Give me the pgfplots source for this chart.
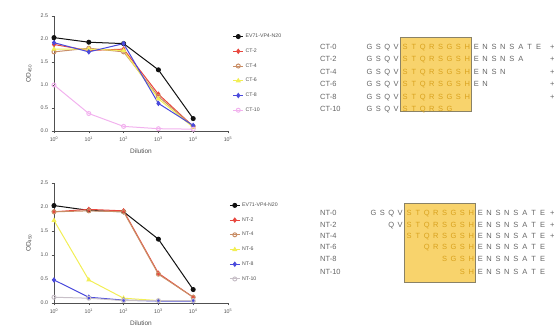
\documentclass[border=0pt]{standalone}
\usepackage{pgfplots}
\pgfplotsset{compat=1.18}
\usepackage{fontspec}
\setmainfont{Liberation Sans}
\definecolor{cblack}{HTML}{111111}
\definecolor{cred}{HTML}{E8473E}
\definecolor{ctan}{HTML}{C98E66}
\definecolor{cyel}{HTML}{F2EE55}
\definecolor{cblue}{HTML}{4A4ADC}
\definecolor{cpink}{HTML}{F2B2EE}
\definecolor{cgrey}{HTML}{C8C0C8}
\definecolor{axgray}{HTML}{505050}
\definecolor{seqout}{HTML}{666666}
\definecolor{seqin}{HTML}{D9A21E}
\definecolor{boxfill}{HTML}{F8D36C}
\definecolor{boxdraw}{HTML}{8A8266}
\newcommand{\seqrow}[4]{%
  \foreach \c [count=\i from #3] in {#4} {%
    \pgfmathtruncatemacro\inb{and(\i>4,\i<13)}%
    \ifnum\inb=1 \def\cc{seqin}\else\def\cc{seqout}\fi
    \node[font=\fontsize{7.5}{8}\selectfont, text=\cc, inner sep=0pt, anchor=base] at ({#1+(\i-0.5)*8.9}, #2-2.7) {\c};
  }}
\pgfplotsset{gp/.style={
  scale only axis, width=174pt,
  xmin=0, xmax=5, ymin=0, ymax=2.5,
  axis x line*=bottom, axis y line*=left,
  axis line style={axgray, line width=0.9pt, -},
  tick style={axgray, line width=0.6pt}, tick align=outside, major tick length=2.5pt,
  xtick={0,1,2,3,4,5},
  xticklabels={10\textsuperscript{0},10\textsuperscript{1},10\textsuperscript{2},10\textsuperscript{3},10\textsuperscript{4},10\textsuperscript{5}},
  ytick={0,0.5,1,1.5,2,2.5},
  /pgf/number format/assume math mode=true,
  yticklabel style={/pgf/number format/fixed, /pgf/number format/fixed zerofill, /pgf/number format/precision=1},
  ticklabel style={font=\fontsize{5.3}{6}\selectfont, text=axgray},
  xlabel={Dilution}, ylabel={OD\textsubscript{450}},
  label style={font=\fontsize{6.5}{7}\selectfont, text=axgray},
  ylabel style={yshift=2pt},
  every axis plot/.append style={line width=1pt, mark size=2pt},
  legend cell align=left,
  legend style={draw=none, fill=none, font=\fontsize{5.2}{6}\selectfont, text=axgray, row sep=5.6pt, anchor=north west},
  legend image code/.code={\draw[mark repeat=2,mark phase=2] plot coordinates {(0cm,0cm)(0.17cm,0cm)(0.34cm,0cm)};},
}}
\begin{document}
\begin{tikzpicture}[x=1pt,y=1pt]
\path (0,0) rectangle (557,329);
% ---------- top plot ----------
\begin{axis}[gp, height=115pt, at={(54pt,198pt)}, anchor=south west,
  legend style={at={(1.01,0.88)}}]
\addplot[cblack, mark=*, mark options={fill=cblack}] coordinates {(0,2.03)(1,1.93)(2,1.9)(3,1.33)(4,0.27)};
\addlegendentry{EV71-VP4-N20}
\addplot[cred, mark=diamond*, mark options={fill=cred}] coordinates {(0,1.88)(1,1.75)(2,1.78)(3,0.8)(4,0.1)};
\addlegendentry{CT-2}
\addplot[ctan, mark=o] coordinates {(0,1.72)(1,1.8)(2,1.72)(3,0.75)(4,0.1)};
\addlegendentry{CT-4}
\addplot[cyel, mark=triangle*, mark options={fill=cyel}] coordinates {(0,1.78)(1,1.78)(2,1.75)(3,0.7)(4,0.08)};
\addlegendentry{CT-6}
\addplot[cblue, mark=diamond*, mark options={fill=cblue}] coordinates {(0,1.92)(1,1.72)(2,1.9)(3,0.6)(4,0.12)};
\addlegendentry{CT-8}
\addplot[cpink, mark=o] coordinates {(0,1.0)(1,0.38)(2,0.1)(3,0.05)(4,0.04)};
\addlegendentry{CT-10}
\end{axis}
% ---------- bottom plot ----------
\begin{axis}[gp, height=120pt, at={(54pt,26pt)}, anchor=south west,
  legend style={at={(0.99,0.87)}}]
\addplot[cblack, mark=*, mark options={fill=cblack}] coordinates {(0,2.03)(1,1.93)(2,1.9)(3,1.33)(4,0.28)};
\addlegendentry{EV71-VP4-N20}
\addplot[cred, mark=diamond*, mark options={fill=cred}] coordinates {(0,1.9)(1,1.95)(2,1.92)(3,0.62)(4,0.12)};
\addlegendentry{NT-2}
\addplot[ctan, mark=o] coordinates {(0,1.9)(1,1.92)(2,1.9)(3,0.6)(4,0.12)};
\addlegendentry{NT-4}
\addplot[cyel, mark=triangle*, mark options={fill=cyel}] coordinates {(0,1.72)(1,0.48)(2,0.1)(3,0.05)(4,0.05)};
\addlegendentry{NT-6}
\addplot[cblue, mark=diamond*, mark options={fill=cblue}] coordinates {(0,0.48)(1,0.12)(2,0.06)(3,0.04)(4,0.04)};
\addlegendentry{NT-8}
\addplot[cgrey, mark=o] coordinates {(0,0.12)(1,0.1)(2,0.05)(3,0.05)(4,0.05)};
\addlegendentry{NT-10}
\end{axis}
% ---------- top sequences ----------
\fill[boxfill] (400.6,292) rectangle (471.8,218);
\draw[boxdraw, line width=0.8pt] (400.6,292) rectangle (471.8,218);
\begin{scope}[every node/.style={font=\fontsize{7.5}{8}\selectfont, text=seqout, anchor=base west, inner sep=0pt}]
\node at (320,279.3) {CT-0};
\node at (320,267.3) {CT-2};
\node at (320,254.3) {CT-4};
\node at (320,242.3) {CT-6};
\node at (320,229.3) {CT-8};
\node at (320,217.3) {CT-10};
\node at (550,279.3) {+};
\node at (550,267.3) {+};
\node at (550,254.3) {+};
\node at (550,242.3) {+};
\node at (550,229.3) {+};
\node at (320,113.3) {NT-0};
\node at (320,101.3) {NT-2};
\node at (320,90.3) {NT-4};
\node at (320,79.3) {NT-6};
\node at (320,67.3) {NT-8};
\node at (320,54.3) {NT-10};
\node at (550,113.3) {+};
\node at (550,101.3) {+};
\node at (550,90.3) {+};
\end{scope}
\seqrow{365}{282}{1}{G,S,Q,V,S,T,Q,R,S,G,S,H,E,N,S,N,S,A,T,E}
\seqrow{365}{270}{1}{G,S,Q,V,S,T,Q,R,S,G,S,H,E,N,S,N,S,A}
\seqrow{365}{257}{1}{G,S,Q,V,S,T,Q,R,S,G,S,H,E,N,S,N}
\seqrow{365}{245}{1}{G,S,Q,V,S,T,Q,R,S,G,S,H,E,N}
\seqrow{365}{232}{1}{G,S,Q,V,S,T,Q,R,S,G,S,H}
\seqrow{365}{220}{1}{G,S,Q,V,S,T,Q,R,S,G}
% ---------- bottom sequences ----------
\fill[boxfill] (404.6,126) rectangle (475.8,47);
\draw[boxdraw, line width=0.8pt] (404.6,126) rectangle (475.8,47);
\seqrow{369}{116}{1}{G,S,Q,V,S,T,Q,R,S,G,S,H,E,N,S,N,S,A,T,E}
\seqrow{369}{104}{3}{Q,V,S,T,Q,R,S,G,S,H,E,N,S,N,S,A,T,E}
\seqrow{369}{93}{5}{S,T,Q,R,S,G,S,H,E,N,S,N,S,A,T,E}
\seqrow{369}{82}{7}{Q,R,S,G,S,H,E,N,S,N,S,A,T,E}
\seqrow{369}{70}{9}{S,G,S,H,E,N,S,N,S,A,T,E}
\seqrow{369}{57}{11}{S,H,E,N,S,N,S,A,T,E}
\end{tikzpicture}
\end{document}
